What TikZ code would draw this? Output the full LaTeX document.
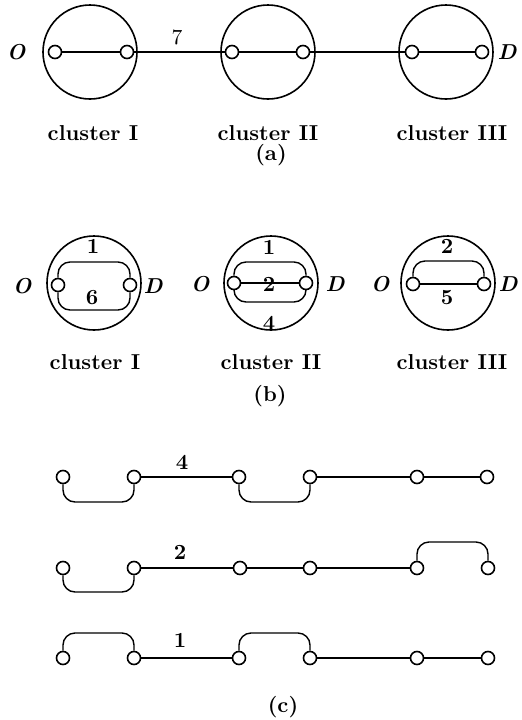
\documentclass[tikz,border=0pt]{standalone}
\begin{document}
\begin{tikzpicture}[x=0.5pt,y=-0.5pt,
  big/.style={circle, draw, line width=0.8pt, minimum size=47pt, inner sep=0pt},
  sm/.style={circle, draw, fill=white, line width=0.8pt, minimum size=6.5pt, inner sep=0pt},
  lbl/.style={font=\fontsize{10.8}{12}\selectfont\bfseries, inner sep=0pt},
  num/.style={font=\fontsize{10.8}{12}\selectfont, inner sep=0pt},
  od/.style={font=\fontsize{10.8}{12}\selectfont\bfseries\itshape, inner sep=0pt},
  ln/.style={line width=0.7pt},
  rc/.style={ln, rounded corners=6pt}]
\useasboundingbox (0,0) rectangle (522,720);

% ---------- (a) ----------
\node[big] (aC1) at (90,52) {};
\node[big] (aC2) at (268,52) {};
\node[big] (aC3) at (446,52) {};
\node[sm] (a1) at (55,52) {};
\node[sm] (a2) at (127,52) {};
\node[sm] (a3) at (232,52) {};
\node[sm] (a4) at (303,52) {};
\node[sm] (a5) at (412,52) {};
\node[sm] (a6) at (482,52) {};
\draw[ln] (a1) -- (a2);
\draw[ln] (a2) -- (a3);
\draw[ln] (a3) -- (a4);
\draw[ln] (a4) -- (a5);
\draw[ln] (a5) -- (a6);
\node[num] (a7) at (177,37) {7};
\node[od] (aO) at (16,52) {O};
\node[od] (aD) at (507,52) {D};
\node[lbl] (acl1) at (93,133) {cluster I};
\node[lbl] (acl2) at (268,133) {cluster II};
\node[lbl] (acl3) at (452,133) {cluster III};
\node[lbl] (acap) at (271,155) {(a)};

% ---------- (b) ----------
\node[big] (bC1) at (94,283) {};
\node[big] (bC2) at (271,283) {};
\node[big] (bC3) at (448,283) {};
\node[sm] (b1L) at (58,285) {};
\node[sm] (b1R) at (130,285) {};
\node[sm] (b2L) at (234,283) {};
\node[sm] (b2R) at (306,283) {};
\node[sm] (b3L) at (413,284) {};
\node[sm] (b3R) at (484,284) {};
\coordinate (b1t) at (94,262);
\coordinate (b1b) at (94,310);
\coordinate (b2t) at (270,262);
\coordinate (b2b) at (270,302);
\coordinate (b3t) at (448,261);
\draw[rc] (b1L) |- (b1t) -| (b1R);
\draw[rc] (b1L) |- (b1b) -| (b1R);
\draw[rc] (b2L) |- (b2t) -| (b2R);
\draw[rc] (b2L) |- (b2b) -| (b2R);
\draw[ln] (b2L) -- (b2R);
\draw[rc] (b3L) |- (b3t) -| (b3R);
\draw[ln] (b3L) -- (b3R);
\node[lbl] (bn11) at (93,246) {1};
\node[lbl] (bn16) at (92,298) {6};
\node[lbl] (bn21) at (269,247) {1};
\node[lbl] (bn22) at (269,284) {2};
\node[lbl] (bn24) at (269,323) {4};
\node[lbl] (bn32) at (447,246) {2};
\node[lbl] (bn35) at (447,298) {5};
\node[od] (bO1) at (22,286) {O};
\node[od] (bD1) at (153,286) {D};
\node[od] (bO2) at (200,284) {O};
\node[od] (bD2) at (335,284) {D};
\node[od] (bO3) at (380,284) {O};
\node[od] (bD3) at (508,284) {D};
\node[lbl] (bcl1) at (95,362) {cluster I};
\node[lbl] (bcl2) at (271,362) {cluster II};
\node[lbl] (bcl3) at (452,362) {cluster III};
\node[lbl] (bcap) at (270,396) {(b)};

% ---------- (c) ----------
% row 1
\node[sm] (c11) at (63,477) {};
\node[sm] (c12) at (134,477) {};
\node[sm] (c13) at (239,477) {};
\node[sm] (c14) at (310,477) {};
\node[sm] (c15) at (417,477) {};
\node[sm] (c16) at (487,477) {};
\coordinate (r1a) at (98,502);
\coordinate (r1b) at (274,502);
\draw[rc] (c11) |- (r1a) -| (c12);
\draw[rc] (c13) |- (r1b) -| (c14);
\draw[ln] (c12) -- (c13);
\draw[ln] (c14) -- (c15);
\draw[ln] (c15) -- (c16);
\node[lbl] (cl4) at (182,462) {4};
% row 2
\node[sm] (c21) at (63,568) {};
\node[sm] (c22) at (134,568) {};
\node[sm] (c23) at (240,568) {};
\node[sm] (c24) at (310,568) {};
\node[sm] (c25) at (417,568) {};
\node[sm] (c26) at (488,568) {};
\coordinate (r2a) at (98,592);
\coordinate (r2b) at (452,542);
\draw[rc] (c21) |- (r2a) -| (c22);
\draw[rc] (c25) |- (r2b) -| (c26);
\draw[ln] (c22) -- (c23);
\draw[ln] (c23) -- (c24);
\draw[ln] (c24) -- (c25);
\node[lbl] (cl2) at (180,552) {2};
% row 3
\node[sm] (c31) at (63,658) {};
\node[sm] (c32) at (134,658) {};
\node[sm] (c33) at (239,658) {};
\node[sm] (c34) at (310,658) {};
\node[sm] (c35) at (417,658) {};
\node[sm] (c36) at (488,658) {};
\coordinate (r3a) at (98,633);
\coordinate (r3b) at (274,633);
\draw[rc] (c31) |- (r3a) -| (c32);
\draw[rc] (c33) |- (r3b) -| (c34);
\draw[ln] (c32) -- (c33);
\draw[ln] (c34) -- (c35);
\draw[ln] (c35) -- (c36);
\node[lbl] (cl1) at (180,640) {1};
\node[lbl] (ccap) at (283,707) {(c)};
\end{tikzpicture}
\end{document}
